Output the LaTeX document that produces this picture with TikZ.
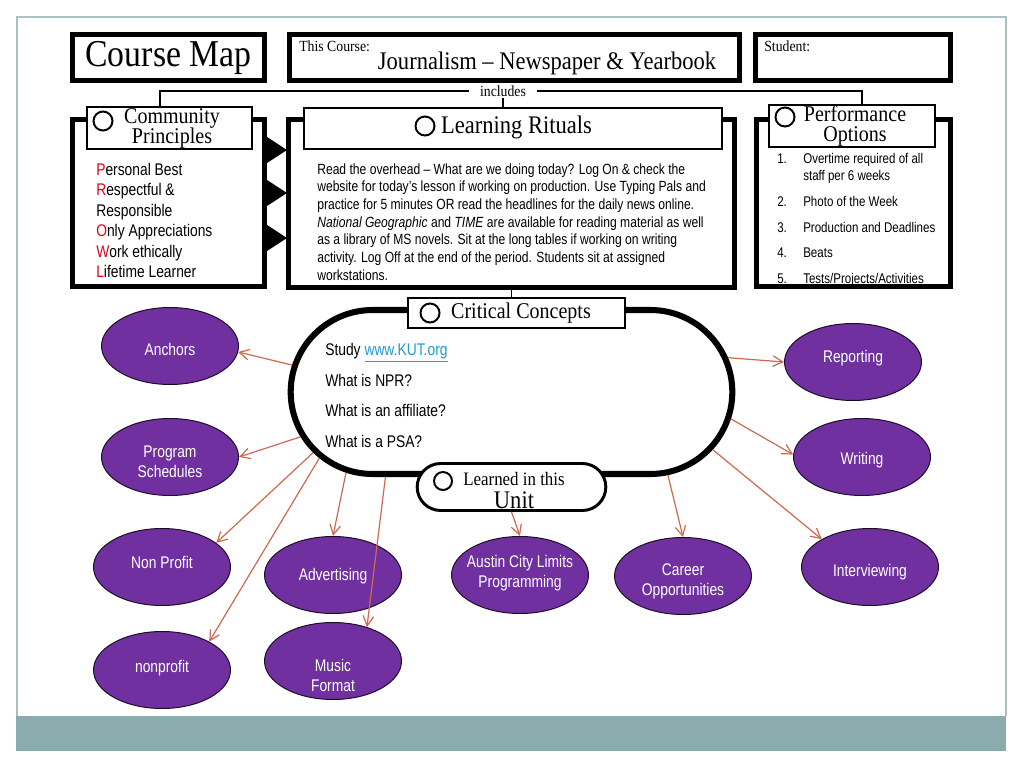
\documentclass[tikz,border=0pt]{standalone}
\usepackage{fontspec}
\setmainfont{Liberation Serif}[FakeStretch=0.89]
\newfontfamily\arialfont{Liberation Sans}[FakeStretch=0.82]
\usepackage{xcolor}
\usetikzlibrary{positioning,calc,shapes.geometric,shapes.misc,arrows.meta}

\definecolor{slideedge}{RGB}{169,192,196}
\definecolor{slideband}{RGB}{138,172,172}
\definecolor{ovalpurple}{RGB}{112,48,160}
\definecolor{linkorange}{RGB}{208,104,80}
\definecolor{roweletter}{RGB}{226,0,26}
\definecolor{urlblue}{RGB}{30,156,214}

\newcommand{\pxl}{0.025cm}

\tikzset{
  thickframe/.style={draw, line width=3.2pt, inner sep=0pt},
  headbox/.style={draw, fill=white, line width=1.4pt, inner sep=0pt},
  ring/.style={circle, draw, line width=1.4pt, minimum size=19*\pxl, inner sep=0pt},
  plaintext/.style={inner sep=0pt},
  topictext/.style={text=white, align=center, inner sep=0pt, font=\arialfont\fontsize{12}{14.2}\selectfont},
  topic/.style n args={2}{ellipse, draw=black!75!ovalpurple, fill=ovalpurple, line width=0.7pt,
    minimum width=137*\pxl, minimum height=77*\pxl, inner sep=0pt,
    label={[topictext, yshift=#2*\pxl]center:#1}},
  link/.style={linkorange, line width=0.85pt, -{Straight Barb[length=7pt,width=7.5pt]}},
}

\begin{document}
\begin{tikzpicture}[x=0.025cm, y=-0.025cm]
    \useasboundingbox (0,0) rectangle (1024,768);
    % slide frame and band
    \draw[slideedge, line width=0.8pt] (17,716) -- (17,17) -- (1006,17) -- (1006,716);
    \fill[slideband] (16,716) rectangle (1006,751);

    % title row
    \node[thickframe, minimum width=192*\pxl, minimum height=46*\pxl, font=\fontsize{27}{30}\selectfont] (title) at (168.5,57.5) {Course Map};
    \node[thickframe, minimum width=450*\pxl, minimum height=46*\pxl] (course) at (514.5,57.5) {};
    \node[plaintext, anchor=west, font=\fontsize{11}{12}\selectfont] (coursetag) at (299,46) {This Course:};
    \node[plaintext, font=\fontsize{18}{20}\selectfont] (coursename) at (547,63) {Journalism – Newspaper \& Yearbook};
    \node[thickframe, minimum width=195*\pxl, minimum height=46*\pxl] (student) at (853,57.5) {};
    \node[plaintext, anchor=west, font=\fontsize{11}{12}\selectfont] (studenttag) at (764,46) {Student:};

    % three panels
    \node[thickframe, minimum width=192*\pxl, minimum height=167*\pxl] (cpframe) at (168.5,203) {};
    \node[thickframe, minimum width=446*\pxl, minimum height=168*\pxl] (lrframe) at (511.5,203.5) {};
    \node[thickframe, minimum width=194*\pxl, minimum height=167*\pxl] (poframe) at (853.5,203) {};
    \foreach \ty in {150,193,238} \fill (267,\ty-13) -- (287,\ty) -- (267,\ty+13) -- cycle;

    % includes bracket
    \node[fill=white, inner ysep=1pt, inner xsep=8pt, font=\fontsize{11}{12}\selectfont] (incl) at (503,91) {includes};
    \draw[line width=0.8pt] ([xshift=-8.5*\pxl]cpframe.north |- 0,106) |- (incl.west);
    \draw[line width=0.8pt] (incl.east) -| ([xshift=8.5*\pxl]poframe.north |- 0,104);
    \draw[line width=0.8pt] (incl.south) -- (incl.south |- 0,107);

    % panel headers
    \node[headbox, minimum width=165*\pxl, minimum height=42*\pxl] (cphead) at (169.5,128) {};
    \node[ring] (cpring) at (103,121) {};
    \node[plaintext, font=\fontsize{16}{19}\selectfont] (cptitle) at (172,118) {Community};
    \node[plaintext, font=\fontsize{16}{19}\selectfont] (cptitleb) at (172,138) {Principles};
    \node[headbox, minimum width=418*\pxl, minimum height=41*\pxl] (lrhead) at (513,128.5) {};
    \node[ring] (lrring) at (425,126) {};
    \node[plaintext, font=\fontsize{18}{20}\selectfont] (lrtitle) at (516.5,127) {Learning Rituals};
    \node[headbox, minimum width=166*\pxl, minimum height=42*\pxl] (pohead) at (852,126) {};
    \node[ring] (poring) at (785,117) {};
    \node[plaintext, font=\fontsize{16}{19}\selectfont] (potitle) at (855,114) {Performance};
    \node[plaintext, font=\fontsize{16}{19}\selectfont] (potitleb) at (855,136) {Options};

    % panel texts
    \node[plaintext, anchor=west, align=left, font=\arialfont\fontsize{12}{14.6}\selectfont] (cplist) at (96,220.5) {%
      \textcolor{roweletter}{P}ersonal Best\\\textcolor{roweletter}{R}espectful \&\\Responsible\\%
      \textcolor{roweletter}{O}nly Appreciations\\\textcolor{roweletter}{W}ork ethically\\\textcolor{roweletter}{L}ifetime Learner};
    \node[plaintext, anchor=west, align=left, font=\arialfont\fontsize{10.5}{12.6}\selectfont] (lrbody) at (317,222) {%
      Read the overhead – What are we doing today? Log On \& check the\\
      website for today’s lesson if working on production. Use Typing Pals and\\
      practice for 5 minutes OR read the headlines for the daily news online.\\
      \textit{National Geographic} and \textit{TIME} are available for reading material as well\\
      as a library of MS novels. Sit at the long tables if working on writing\\
      activity. Log Off at the end of the period. Students sit at assigned\\
      workstations.};
    \foreach \num/\ly/\ptext in {1./159/Overtime required of all, /176/staff per 6 weeks, 2./202/Photo of the Week,
        3./228/Production and Deadlines, 4./253/Beats, 5./279/{Tests/Projects/Activities}} {
      \node[plaintext, anchor=base west, font=\arialfont\fontsize{10}{12}\selectfont] (ponum\ly) at (777,\ly+4.5) {\num};
      \node[plaintext, anchor=base west, font=\arialfont\fontsize{10}{12}\selectfont] (poitem\ly) at (803,\ly+4.5) {\ptext};
    }

    % critical concepts
    \node[rounded rectangle, draw, line width=4.3pt, minimum width=451*\pxl, minimum height=164*\pxl] (cc) at (511.5,392) {};
    \draw[line width=0.8pt] (lrframe.south) -- (lrframe.south |- 0,298);
    \node[headbox, minimum width=217*\pxl, minimum height=30*\pxl] (cchead) at (516.5,313) {};
    \node[ring] (ccring) at (430,313) {};
    \node[plaintext, font=\fontsize{16}{18}\selectfont] (cctitle) at (521,313) {Critical Concepts};
    \node[plaintext, anchor=west, align=left, font=\arialfont\fontsize{12}{21.6}\selectfont] (ccbody) at (325,395.5) {%
      Study \textcolor{urlblue}{\underline{www.KUT.org}}\\What is NPR?\\What is an affiliate?\\What is a PSA?};
    \node[rounded rectangle, draw, fill=white, line width=2.1pt, minimum width=198*\pxl, minimum height=47*\pxl] (learned) at (511.5,487) {};
    \node[ring, minimum size=18*\pxl] (lnring) at (443,481) {};
    \node[plaintext, font=\fontsize{13.5}{15}\selectfont] (lntitle) at (514,479) {Learned in this};
    \node[plaintext, font=\fontsize{18}{20}\selectfont] (lnunit) at (514,500) {Unit};

    % topics
    \node[topic={Anchors}{-3}] (anchors) at (170,346) {};
    \node[topic={Program\\Schedules}{-5}] (schedules) at (170,457) {};
    \node[topic={Non Profit}{5}] (nonprofitA) at (162,567) {};
    \node[topic={nonprofit}{2}] (nonprofitB) at (162,670) {};
    \node[topic={Advertising}{-1}] (advertising) at (333,575) {};
    \node[topic={Music\\Format}{-14}] (music) at (333,661) {};
    \node[topic={Austin City Limits\\Programming}{2}] (acl) at (520,575) {};
    \node[topic={Career\\Opportunities}{-5}] (career) at (683,576) {};
    \node[topic={Interviewing}{-5}] (interview) at (870,567) {};
    \node[topic={Reporting}{4}] (reporting) at (853,362) {};
    \node[topic={Writing}{-3}] (writing) at (862,457) {};

    % links
    \draw[link] (cc.173) -- (anchors.355);
    \draw[link] (cc.192) -- (schedules.east);
    \draw[link] (cc.197) -- (nonprofitA.24);
    \draw[link] (cc.199) -- (nonprofitB.31);
    \draw[link] (cc.206) -- (advertising.north);
    \draw[link] (cc.214) -- (music.45);
    \draw[link] (learned.south) -- (acl.north);
    \draw[link] (cc.332) -- (career.north);
    \draw[link] (cc.344) -- (interview.150);
    \draw[link] (cc.9) -- (reporting.west);
    \draw[link] (cc.353) -- (writing.178);
\end{tikzpicture}
\end{document}
